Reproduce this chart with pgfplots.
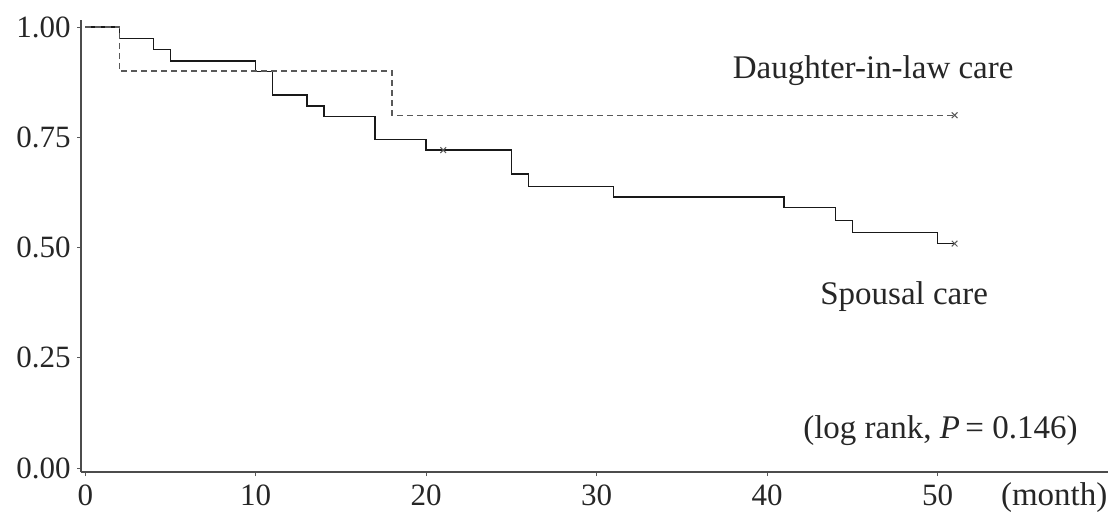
\documentclass[border=0pt]{standalone}
\usepackage{pgfplots}
\pgfplotsset{compat=1.18}
\usepackage{fontspec}
\setmainfont{Liberation Serif}
\begin{document}
\begin{tikzpicture}
\path[use as bounding box] (-40.5pt,-23.5pt) rectangle (515.5pt,236pt);
\begin{axis}[
  scale only axis, width=513.5pt, height=226pt,
  at={(0,0)}, anchor=south west,
  xmin=-0.25, xmax=60, ymin=-0.009, ymax=1.016,
  axis x line*=bottom, axis y line*=left,
  axis line style={gray!60!black, line width=0.6pt},
  xtick={0,10,20,30,40,50}, ytick={0,0.25,0.5,0.75,1},
  yticklabel style={inner sep=3pt, /pgf/number format/.cd, fixed, fixed zerofill, precision=2},
  tick align=outside, major tick length=2pt,
  tick style={gray!70!black, line width=0.5pt},
  ticklabel style={font=\fontsize{15.5}{17}\selectfont, text=black!85},
  xticklabel style={inner sep=4pt},
  /pgf/number format/assume math mode=true,
  clip=false,
]
% Spousal care
\addplot[const plot, black!90, line width=0.7pt] coordinates {
 (0,1.000) (2,0.974) (4,0.949) (5,0.923) (10,0.899) (11,0.846) (13,0.821)
 (14,0.797) (17,0.745) (20,0.721) (25,0.667) (26,0.639) (31,0.615)
 (41,0.591) (44,0.562) (45,0.534) (50,0.509) (51,0.509)};
% Daughter-in-law care
\addplot[const plot, gray!70!black, line width=0.7pt, dash pattern=on 3pt off 2pt] coordinates {
 (0,1.000) (2,0.900) (18,0.800) (51,0.800)};
% censored marks
\addplot[only marks, mark=x, mark size=2pt, gray!70!black, line width=0.5pt] coordinates {
 (21,0.721) (51,0.509) (51,0.800)};
\node[anchor=base west, inner sep=0pt, font=\fontsize{16.5}{19}\selectfont, text=black!85] at (axis cs:37.97,0.884) {Daughter-in-law care};
\node[anchor=base west, inner sep=0pt, font=\fontsize{16.5}{19}\selectfont, text=black!85] at (axis cs:43.1,0.370) {Spousal care};
\node[anchor=base west, inner sep=0pt, font=\fontsize{16.5}{19}\selectfont, text=black!85] at (axis cs:42.1,0.068) {(log rank, \textit{P}\,= 0.146)};
\node[anchor=base west, inner sep=0pt, font=\fontsize{16.5}{19}\selectfont, text=black!85] at (axis cs:53.7,-0.084) {(month)};
\end{axis}
\end{tikzpicture}
\end{document}
